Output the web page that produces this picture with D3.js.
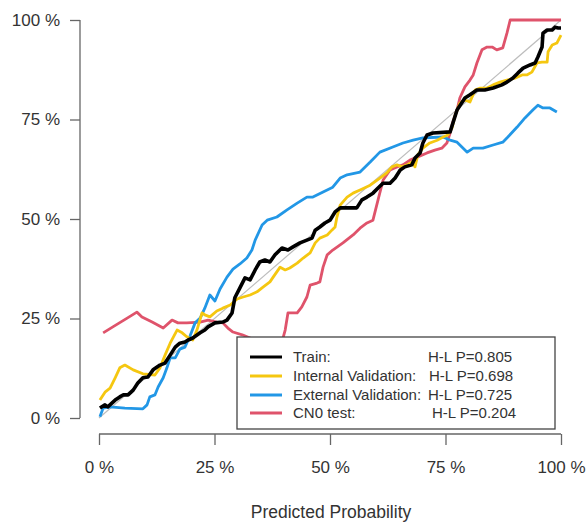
<!DOCTYPE html>
<html>
<head>
<meta charset="utf-8">
<script src="https://cdn.jsdelivr.net/npm/d3@7"></script>
<style>
  body { margin: 0; background: #fff; }
  svg text { font-family: "Liberation Sans", Arial, sans-serif; fill: #333; }
</style>
</head>
<body>
<svg></svg>
<script>
// calibration curves, [predicted %, observed %]
var train = [[0.2,2.5],[1.3,3.3],[1.9,2.8],[3.5,4.5],[4.5,5.3],[5.2,5.8],[6.3,5.8],[7.4,7.0],[8.4,8.8],[9.5,10.1],[10.6,10.3],[11.7,12.1],[13.2,13.3],[14.3,13.8],[15.4,15.8],[16.5,17.8],[17.5,18.8],[18.6,19.1],[19.3,19.6],[20.3,20.1],[21.9,21.4],[22.9,22.1],[23.6,22.9],[25.1,23.9],[26.8,24.1],[27.7,24.6],[28.8,26.4],[29.4,30.2],[30.5,32.7],[31.6,35.2],[32.7,34.7],[33.8,37.2],[34.8,39.2],[35.9,39.7],[37.0,39.2],[38.1,41.0],[39.6,42.7],[40.9,42.2],[42.0,43.0],[43.5,44.0],[45.0,44.7],[46.1,45.2],[46.8,47.2],[47.8,48.0],[48.9,49.0],[50.0,49.7],[51.1,51.8],[52.2,52.8],[55.8,52.8],[56.9,54.8],[58.0,55.5],[59.3,56.5],[60.4,57.8],[61.5,59.0],[63.0,59.0],[64.1,60.3],[65.2,62.3],[66.2,63.1],[67.7,63.6],[68.4,65.3],[69.5,66.6],[70.1,69.1],[71.0,71.1],[72.3,71.6],[76.0,71.9],[76.6,74.1],[77.5,77.4],[79.2,80.4],[80.3,81.2],[81.8,82.4],[83.5,82.4],[85.3,82.9],[87.2,83.7],[88.3,84.4],[89.6,85.4],[90.7,86.7],[91.8,87.9],[93.3,88.7],[94.4,89.2],[95.0,90.7],[95.9,93.2],[96.1,96.7],[97.0,97.5],[98.1,97.5],[98.7,98.2],[99.4,98.0],[100,98.0]];
var internal = [[0.2,4.5],[1.3,6.5],[2.4,7.5],[3.5,10.1],[4.5,12.6],[5.6,13.3],[7.4,12.1],[9.5,11.1],[12.1,10.8],[13.2,12.6],[14.3,15.8],[15.4,18.8],[16.9,22.1],[18.0,21.4],[19.0,20.4],[20.3,19.6],[21.2,22.1],[22.3,26.4],[22.9,25.9],[24.0,25.4],[25.5,26.9],[26.8,27.6],[28.4,28.4],[29.9,29.9],[31.2,30.4],[32.7,30.9],[34.2,31.7],[35.5,32.9],[37.0,34.2],[37.7,35.4],[39.2,37.9],[40.3,37.2],[41.3,37.7],[42.9,38.9],[44.2,40.2],[45.7,41.5],[46.8,44.0],[47.8,45.2],[49.4,46.0],[50.4,47.2],[51.1,48.0],[51.5,50.5],[52.2,53.5],[53.7,55.5],[55.0,56.5],[56.5,57.3],[58.7,58.5],[60.8,60.3],[62.3,61.6],[63.4,63.1],[64.5,63.6],[65.6,63.1],[66.7,63.6],[67.7,64.3],[68.4,63.1],[69.0,66.1],[70.1,67.8],[71.6,69.1],[73.2,69.8],[74.5,70.6],[75.5,71.1],[76.4,72.9],[77.1,76.1],[78.1,79.1],[79.2,79.9],[80.3,79.4],[81.4,82.4],[82.5,82.9],[84.0,82.9],[85.3,83.7],[86.8,84.4],[88.3,84.9],[90.0,85.4],[91.6,86.2],[92.6,86.2],[93.7,86.9],[94.8,89.2],[95.9,89.4],[97.0,89.4],[97.2,92.0],[98.1,93.7],[99.1,94.2],[100,96.2]];
var external = [[0.2,0.3],[0.9,2.5],[2.4,2.8],[5.6,2.5],[9.5,2.3],[10.4,3.3],[11.0,5.3],[12.1,5.8],[12.8,7.8],[13.9,10.1],[14.7,12.6],[15.4,15.1],[16.5,15.1],[17.5,17.3],[18.6,17.8],[19.7,20.6],[20.8,23.9],[21.9,25.1],[22.9,27.6],[24.0,30.9],[25.1,29.4],[26.2,32.4],[27.7,35.4],[29.0,37.4],[30.5,38.7],[32.0,40.2],[33.1,42.2],[33.8,44.7],[35.3,48.5],[36.4,49.7],[38.5,50.5],[40.7,52.3],[42.9,54.0],[45.0,55.5],[46.3,55.5],[48.5,56.8],[50.6,58.0],[52.2,60.3],[53.7,61.1],[56.5,61.8],[58.7,64.3],[60.8,66.8],[63.6,68.1],[65.8,69.1],[68.0,69.8],[70.1,70.4],[74.5,70.6],[76.0,69.8],[77.5,69.3],[79.7,66.8],[81.0,67.8],[83.1,67.8],[85.3,68.6],[87.4,69.3],[88.5,70.6],[90.5,73.1],[92.2,75.4],[93.9,77.4],[95.0,78.6],[96.1,77.9],[97.6,77.9],[99.1,76.9]];
var cn0 = [[0.9,21.4],[3.0,22.9],[6.1,25.1],[8.2,26.6],[9.3,25.4],[11.5,24.1],[13.9,22.6],[15.8,24.6],[17.1,23.9],[19.0,23.9],[21.9,24.1],[23.6,24.6],[25.5,24.1],[26.8,23.9],[27.9,22.6],[29.0,21.6],[31.0,20.9],[32.7,20.1],[35.3,18.3],[38.1,17.6],[39.6,19.1],[40.3,22.1],[40.9,26.4],[42.9,26.4],[43.9,27.9],[45.0,30.4],[45.7,33.4],[47.2,33.9],[47.8,34.2],[48.5,37.9],[49.4,41.0],[50.6,42.2],[52.8,44.0],[55.0,46.0],[56.5,47.7],[58.0,49.0],[59.3,49.7],[60.4,54.8],[61.5,59.8],[63.0,62.3],[64.5,63.1],[65.8,63.6],[67.3,64.8],[69.0,65.6],[71.0,66.6],[72.7,67.3],[74.2,67.8],[75.3,69.1],[76.0,71.6],[76.6,74.4],[77.5,77.4],[78.1,80.4],[79.2,83.2],[80.3,84.9],[81.0,86.2],[81.8,89.2],[82.9,92.5],[84.0,93.2],[85.1,93.2],[86.1,92.5],[87.4,93.0],[88.3,96.7],[89.0,100],[100,100]];

var seriesNames = ["Train:", "Internal Validation:", "External Validation:", "CN0 test:"];
var hlLabels = ["H-L P=0.805", "H-L P=0.698", "H-L P=0.725", "H-L P=0.204"];
var colors = ["#000000", "#F5C710", "#2297E6", "#DF536B"];
var widths = [3.6, 2.8, 2.8, 2.8];
var tickValues = [0, 25, 50, 75, 100];

var svgWidth = 588;
var svgHeight = 523;
var svg = d3.select("svg")
  .attr("width", svgWidth)
  .attr("height", svgHeight);

var x = d3.scaleLinear().domain([0, 100]).range([99, 561]);
var y = d3.scaleLinear().domain([0, 100]).range([418, 20]);

// y axis, R style: line only over the tick range
var yAxis = d3.axisLeft(y).tickValues(tickValues).tickSize(10).tickPadding(10)
  .tickFormat(function(d) { return d + " %"; });
var gy = svg.append("g").attr("transform", "translate(80,0)").call(yAxis);
gy.select(".domain").attr("d", "M0," + y(0) + "V" + y(100)).attr("stroke", "#666").attr("stroke-width", 1.3);
gy.selectAll(".tick line").attr("stroke", "#666").attr("stroke-width", 1.3);
gy.selectAll("text").style("font-size", "17px").attr("fill", "#333");

var xAxis = d3.axisBottom(x).tickValues(tickValues).tickSize(11).tickPadding(16)
  .tickFormat(function(d) { return d + " %"; });
var gx = svg.append("g").attr("transform", "translate(0,434)").call(xAxis);
gx.select(".domain").attr("d", "M" + x(0) + ",0H" + x(100)).attr("stroke", "#666").attr("stroke-width", 1.3);
gx.selectAll(".tick line").attr("stroke", "#666").attr("stroke-width", 1.3);
gx.selectAll("text").style("font-size", "17px").attr("fill", "#333");

svg.append("text")
  .attr("x", 331).attr("y", 518)
  .attr("text-anchor", "middle")
  .style("font-size", "17.5px")
  .text("Predicted Probability");

// ideal line
svg.append("line")
  .attr("x1", x(0)).attr("y1", y(0))
  .attr("x2", x(100)).attr("y2", y(100))
  .attr("stroke", "#bdbdbd").attr("stroke-width", 1.2);

var line = d3.line()
  .x(function(d) { return x(d[0]); })
  .y(function(d) { return y(d[1]); });

var allSeries = [train, internal, external, cn0];
// draw order: CN0 first, train on top
[3, 2, 1, 0].forEach(function(i) {
  svg.append("path")
    .datum(allSeries[i])
    .attr("d", line)
    .attr("fill", "none")
    .attr("stroke", colors[i])
    .attr("stroke-width", widths[i])
    .attr("stroke-linejoin", "round");
});

// legend
var legend = svg.append("g");
legend.append("rect")
  .attr("x", 237).attr("y", 337)
  .attr("width", 318).attr("height", 92)
  .attr("fill", "#fff").attr("stroke", "#444").attr("stroke-width", 1.3);

var rowY = [357, 376, 395, 413];
var hlX = [428, 429, 428, 432];
for (var i = 0; i < seriesNames.length; i++) {
  legend.append("line")
    .attr("x1", 250).attr("x2", 282)
    .attr("y1", rowY[i]).attr("y2", rowY[i])
    .attr("stroke", colors[i]).attr("stroke-width", 3);
  legend.append("text")
    .attr("x", 293).attr("y", rowY[i] + 5)
    .style("font-size", "15px")
    .text(seriesNames[i]);
  legend.append("text")
    .attr("x", hlX[i]).attr("y", rowY[i] + 5)
    .style("font-size", "15px")
    .text(hlLabels[i]);
}
</script>
</body>
</html>
